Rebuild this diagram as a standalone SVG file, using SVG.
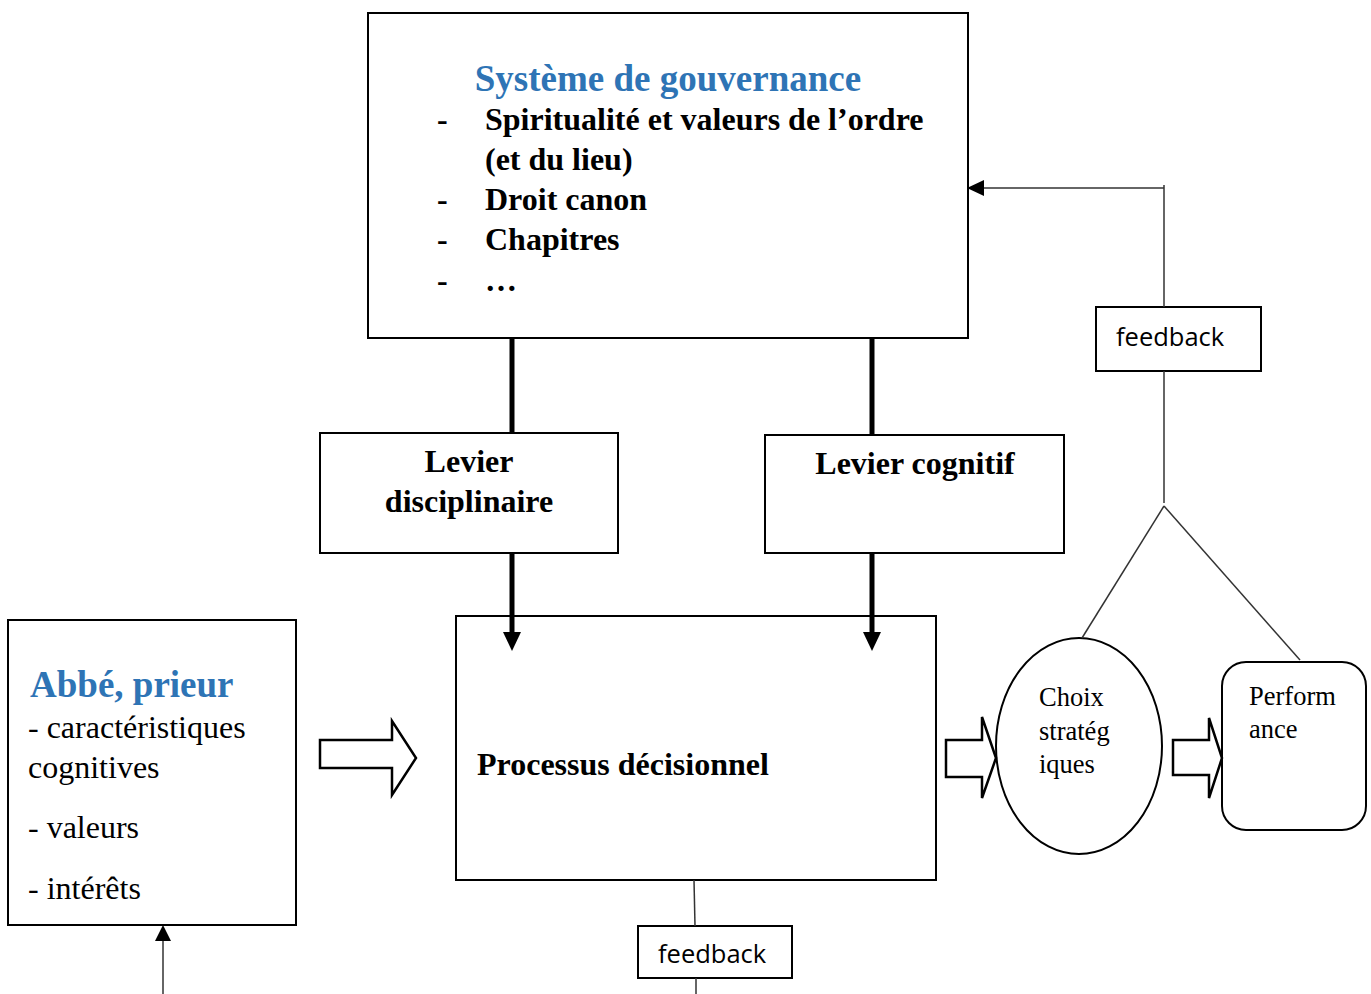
<svg xmlns="http://www.w3.org/2000/svg" width="1371" height="994" viewBox="0 0 1371 994">
<style>
.box{fill:#fff;stroke:#000;stroke-width:2}
.thin{fill:none;stroke:#333;stroke-width:1.5}
.thick{fill:none;stroke:#000;stroke-width:5}
.blk{fill:#fff;stroke:#000;stroke-width:2.5;stroke-linejoin:miter}
.t{font-family:"Liberation Serif","Times New Roman",serif;fill:#000}
.b{font-weight:bold;font-size:32px}
.blue{fill:#2E74B5;font-weight:bold}
.r{font-size:32px}
.s{font-size:26.5px}
.fb{font-family:"Open Sans","Liberation Sans",sans-serif;font-size:25.5px;fill:#000}
</style>
<rect width="1371" height="994" fill="#fff"/>

<g id="gouvernance">
<rect class="box" x="368" y="13" width="600" height="325"/>
<text class="t blue" x="668" y="91" font-size="37" text-anchor="middle">Système de gouvernance</text>
<text class="t b" x="437" y="130">-</text><text class="t b" x="485" y="130">Spiritualité et valeurs de l’ordre</text>
<text class="t b" x="485" y="170">(et du lieu)</text>
<text class="t b" x="437" y="210">-</text><text class="t b" x="485" y="210">Droit canon</text>
<text class="t b" x="437" y="250">-</text><text class="t b" x="485" y="250">Chapitres</text>
<text class="t b" x="437" y="291">-</text><text class="t b" x="485" y="291">…</text>
</g>

<g id="levier-disciplinaire">
<rect class="box" x="320" y="433" width="298" height="120"/>
<text class="t b" x="469" y="472" text-anchor="middle">Levier</text>
<text class="t b" x="469" y="512" text-anchor="middle">disciplinaire</text>
</g>

<g id="levier-cognitif">
<rect class="box" x="765" y="435" width="299" height="118"/>
<text class="t b" x="915" y="474" text-anchor="middle">Levier cognitif</text>
</g>

<g id="processus">
<rect class="box" x="456" y="616" width="480" height="264"/>
<text class="t b" x="477" y="775">Processus décisionnel</text>
</g>

<g id="abbe">
<rect class="box" x="8" y="620" width="288" height="305"/>
<text class="t blue" x="30" y="697" font-size="37">Abbé, prieur</text>
<text class="t r" x="28" y="738">- caractéristiques</text>
<text class="t r" x="28" y="778">cognitives</text>
<text class="t r" x="28" y="838">- valeurs</text>
<text class="t r" x="28" y="899">- intérêts</text>
</g>

<g id="choix">
<ellipse class="box" cx="1079" cy="746" rx="83" ry="108"/>
<text class="t s" x="1039" y="706">Choix</text>
<text class="t s" x="1039" y="740">stratég</text>
<text class="t s" x="1039" y="773">iques</text>
</g>

<g id="performance">
<rect class="box" x="1222" y="662" width="144" height="168" rx="24"/>
<text class="t s" x="1249" y="705">Perform</text>
<text class="t s" x="1249" y="738">ance</text>
</g>

<g id="feedback-top">
<rect class="box" x="1096" y="307" width="165" height="64" stroke-width="1.5"/>
<text class="fb" x="1116" y="346">feedback</text>
</g>

<g id="feedback-bottom">
<rect class="box" x="638" y="926" width="154" height="52" stroke-width="1.5"/>
<text class="fb" x="658" y="963">feedback</text>
</g>

<g id="connectors">
<line class="thick" x1="512" y1="338" x2="512" y2="433"/>
<line class="thick" x1="872" y1="338" x2="872" y2="435"/>
<line class="thick" x1="512" y1="553" x2="512" y2="634"/>
<polygon points="503,632 521,632 512,651" fill="#000"/>
<line class="thick" x1="872" y1="553" x2="872" y2="634"/>
<polygon points="863,632 881,632 872,651" fill="#000"/>
<line class="thin" x1="1164" y1="188" x2="984" y2="188"/>
<polygon points="984,180 984,196 967,188" fill="#000"/>
<line class="thin" x1="1164" y1="185" x2="1164" y2="307"/>
<line class="thin" x1="1164" y1="371" x2="1164" y2="503"/>
<line class="thin" x1="1164" y1="506" x2="1082" y2="638"/>
<line class="thin" x1="1164" y1="506" x2="1300" y2="660"/>
<line class="thin" x1="694" y1="880" x2="695" y2="926"/>
<line class="thin" x1="696" y1="978" x2="696" y2="994"/>
<line class="thin" x1="163" y1="994" x2="163" y2="940"/>
<polygon points="155,941 171,941 163,925" fill="#000"/>
<polygon class="blk" points="320,740 392,740 392,721 416,758 392,795 392,768 320,768"/>
<polygon class="blk" points="946,740 982,740 982,717 996,758 982,798 982,777 946,777" fill="none"/>
<polygon class="blk" points="1173,740 1209,740 1209,718 1222,758 1209,798 1209,775 1173,775" fill="none"/>
</g>
</svg>
